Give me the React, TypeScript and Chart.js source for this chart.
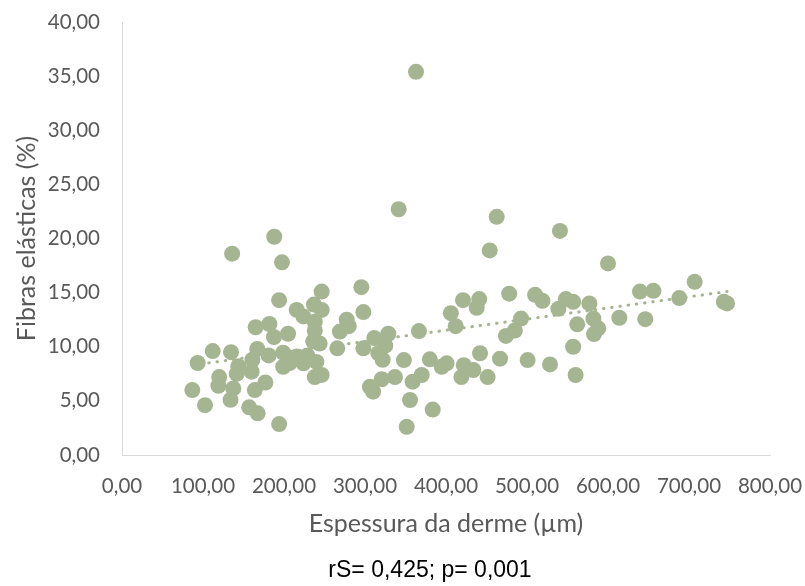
import { useEffect, useRef } from "react";
import { Chart, registerables } from "chart.js";

Chart.register(...registerables);

// Dermal thickness (µm) for each sample
const espessura = [
  86.8, 93.4, 102.5, 112, 119, 120, 134.6, 136, 137.4, 134, 141.6, 143.6, 157, 161, 160, 164,
  165, 167, 167.5, 177, 181, 182, 187.6, 188, 194, 194, 197.5, 199, 199, 205, 207, 215.7,
  215.7, 224, 224, 228.8, 237, 238, 238, 236, 240, 244, 246.5, 246.5, 238, 246.5, 265.8, 269,
  277.4, 280, 295.5, 298, 298, 306, 310, 311.5, 316.5, 320.6, 321.8, 325, 328.8, 337, 341.6,
  348, 351.5, 355.6, 358.8, 363, 366.6, 370, 380, 383.6, 394.7, 400.8, 406, 412, 419, 421,
  422, 433.7, 437.9, 441, 442, 451.4, 454, 462.6, 466.7, 474, 478, 485, 492.6, 500.8, 510,
  519, 528.4, 538.7, 540.7, 548, 557, 557, 560, 562, 577, 582, 582.7, 588, 600, 614, 639.5,
  646, 656, 688, 707, 743, 747,
];

// Elastic fibre content (%) for each sample
const fibras = [
  6.0, 8.5, 4.6, 9.6, 6.4, 7.2, 9.5, 18.6, 6.15, 5.1, 7.5, 8.2, 4.4, 8.8, 7.7, 6.0,
  11.8, 9.8, 3.85, 6.7, 9.2, 12.1, 10.9, 20.16, 14.3, 2.86, 17.8, 9.45, 8.15, 11.2, 8.5, 13.4,
  9.1, 12.8, 8.47, 9.2, 13.9, 12.3, 11.5, 10.5, 8.6, 10.3, 13.4, 15.1, 7.2, 7.4, 9.85, 11.4,
  12.5, 11.9, 15.5, 13.2, 9.85, 6.3, 5.85, 10.8, 9.4, 7.0, 8.8, 10.1, 11.2, 7.2, 22.7,
  8.77, 2.6, 5.08, 6.77, 35.4, 11.45, 7.39, 8.84, 4.2, 8.15, 8.47, 13.1, 11.9, 7.2, 14.3,
  8.3, 7.85, 13.6, 14.4, 9.4, 7.2, 18.9, 22.0, 8.9, 11.0, 14.9, 11.5, 12.6, 8.77, 14.8,
  14.25, 8.37, 13.5, 20.7, 14.4, 14.15, 10.0, 7.39, 12.07, 14.0, 12.6, 11.17, 11.7, 17.7, 12.68, 15.1,
  12.55, 15.17, 14.5, 16.0, 14.15, 14.0,
];

// Linear trend line end points
const trendX = [86.8, 747];
const trendY = [8.3, 15.1];

const GREEN = "#a5b592";
const GREY_TEXT = "#595959";
const CLEAR = "rgba(0,0,0,0)";
const TICK_FONT = { family: "Lato, 'Open Sans', sans-serif", size: 20.5 };
const TITLE_FONT = { family: "Lato, 'Open Sans', sans-serif", size: 25 };

const fmt = (v: number) => v.toFixed(2).replace(".", ",");

const footnote = {
  id: "footnote",
  afterDraw(chart: Chart) {
    const { ctx } = chart;
    ctx.save();
    ctx.font = "23px 'Liberation Sans', Arial, sans-serif";
    ctx.fillStyle = "#000000";
    ctx.textAlign = "center";
    ctx.textBaseline = "middle";
    ctx.fillText("rS= 0,425; p= 0,001", 430, 571);
    ctx.restore();
  },
};

export default function App() {
  const canvasRef = useRef<HTMLCanvasElement | null>(null);

  useEffect(() => {
    if (!canvasRef.current) return;
    const points = espessura.map((x, i) => ({ x, y: fibras[i] }));
    const trend = trendX.map((x, i) => ({ x, y: trendY[i] }));

    const chart = new Chart(canvasRef.current, {
      type: "scatter",
      data: {
        datasets: [
          {
            type: "line",
            data: trend,
            borderColor: GREEN,
            borderWidth: 3,
            borderDash: [0.5, 7.8],
            borderCapStyle: "round",
            pointRadius: 0,
            fill: false,
            order: 0,
          },
          {
            data: points,
            backgroundColor: GREEN,
            borderWidth: 0,
            pointRadius: 8,
            pointHoverRadius: 8,
            order: 1,
          },
        ],
      },
      options: {
        responsive: true,
        maintainAspectRatio: false,
        animation: false,
        events: [],
        layout: { padding: { top: 22, right: 35, bottom: 0, left: 0 } },
        plugins: {
          legend: { display: false },
          tooltip: { enabled: false },
        },
        scales: {
          x: {
            type: "linear",
            min: 0,
            max: 800,
            afterFit: (s: any) => {
              s.height = 131;
            },
            ticks: {
              stepSize: 100,
              callback: (v: any) => fmt(Number(v)),
              color: GREY_TEXT,
              font: TICK_FONT,
              padding: 0,
              maxRotation: 0,
            },
            grid: { display: true, color: CLEAR, drawTicks: true, tickLength: 19 },
            border: { display: true, color: "#d9d9d9", width: 1 },
            title: {
              display: true,
              text: "Espessura da derme (µm)",
              color: GREY_TEXT,
              font: TITLE_FONT,
              padding: { top: 0, bottom: 47 },
            },
          },
          y: {
            type: "linear",
            min: 0,
            max: 40,
            afterFit: (s: any) => {
              s.width = 122;
            },
            ticks: {
              stepSize: 5,
              callback: (v: any) => fmt(Number(v)),
              color: GREY_TEXT,
              font: TICK_FONT,
              padding: 0,
            },
            grid: { display: true, color: CLEAR, drawTicks: true, tickLength: 22 },
            border: { display: true, color: "#d9d9d9", width: 1 },
            title: {
              display: true,
              text: "Fibras elásticas (%)",
              color: GREY_TEXT,
              font: TITLE_FONT,
              padding: { top: 12, bottom: 0 },
            },
          },
        },
      },
      plugins: [footnote],
    });

    return () => chart.destroy();
  }, []);

  return (
    <div
      style={{
        position: "fixed",
        left: 0,
        top: 0,
        width: 805,
        height: 586,
        background: "#ffffff",
      }}
    >
      <canvas ref={canvasRef} />
    </div>
  );
}
